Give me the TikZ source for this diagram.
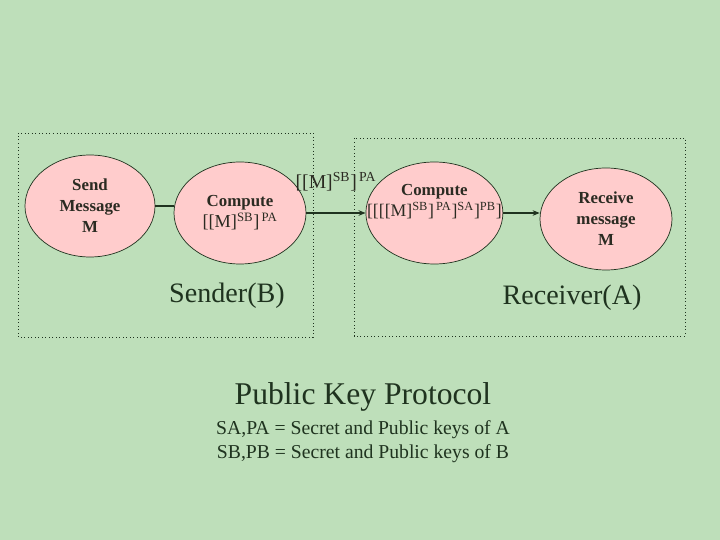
\documentclass[tikz,border=0pt]{standalone}
\usepackage{fontspec}
\setmainfont{Liberation Serif}
\usepackage{xcolor}
\usetikzlibrary{arrows.meta,positioning,shapes.geometric}
\definecolor{cBack}{HTML}{BEDFBA}
\definecolor{cPink}{HTML}{FFCCCC}
\definecolor{cInk}{HTML}{2B2B22}
\definecolor{cDark}{HTML}{1F331F}
\tikzset{
  oval/.style={ellipse,draw=cDark,fill=cPink,line width=0.5pt,align=center,inner sep=0pt,
    font=\fontsize{12}{15}\selectfont,text=cInk,minimum width=#1,minimum height=2.55cm},
  oval/.default=3.3cm,
  frame/.style={draw=cDark,dotted,line width=0.5pt},
  arr/.style={-{Stealth[length=5pt,width=4pt]},line width=1.2pt,color=cDark},
  link/.style={line width=0.8pt,color=cDark},
  side/.style={font=\fontsize{20}{24}\selectfont,text=cDark},
}
\newcommand{\keyfont}{\fontsize{13}{15}\selectfont}
\begin{document}
\begin{tikzpicture}[x=1cm,y=1cm]
    \useasboundingbox (0,0) rectangle (18,13.5);
    \fill[cBack] (0,0) rectangle (18,13.5);
    % sender and receiver frames
    \draw[frame] (0.45,5.075) rectangle (7.825,10.175);
    \draw[frame] (8.85,5.1) rectangle (17.125,10.05);
    \node[oval=3.25cm] (send) at (2.25,8.35) {\bfseries Send\\\bfseries Message\\\bfseries M};
    \node[oval] (enc) at (6.0,8.175) {\bfseries Compute\\{\keyfont[[M]\textsuperscript{SB}]\textsuperscript{\,PA}}};
    \node[oval=3.425cm,inner xsep=-0.6cm] (dec) at (10.86,8.175) {\bfseries Compute\\{\fontsize{12.6}{15}\selectfont[[[[M]\textsuperscript{SB}]\textsuperscript{\,PA}]\textsuperscript{SA}]\textsuperscript{PB}]}\\[3pt]{}};
    \node[oval] (recv) at (15.15,8.025) {\bfseries Receive\\\bfseries message\\\bfseries M};
    \draw[link] (send.east) -- (send.east -| enc.west);
    \draw[arr] (enc.east) -- (dec.west)
      node[midway,above=0.4cm,font=\fontsize{14}{16}\selectfont,text=cInk] {[[M]\textsuperscript{SB}]\textsuperscript{\,PA}};
    \draw[arr] (dec.east) -- (dec.east -| recv.west);
    \node[side] (sender) at (5.675,6.1) {Sender(B)};
    \node[side] (receiver) at (14.3,6.05) {Receiver(A)};
    \node[font=\fontsize{22.5}{26}\selectfont,text=cDark] (title) at (9.075,3.575) {Public Key Protocol};
    \node[font=\fontsize{14}{17}\selectfont,text=cDark,align=center,below=-0.02cm of title] (keys)
      {SA,PA = Secret and Public keys of A\\SB,PB = Secret and Public keys of B};
  \end{tikzpicture}
\end{document}
